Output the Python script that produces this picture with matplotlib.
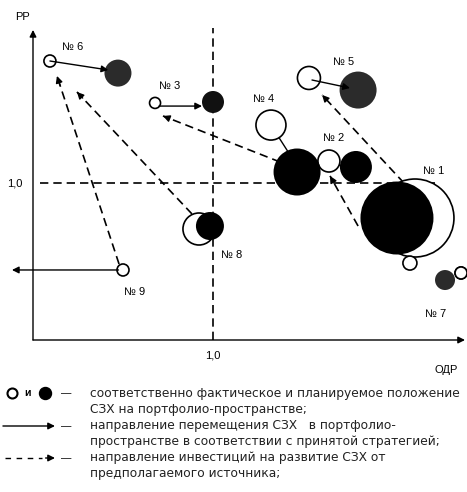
import matplotlib
matplotlib.use("Agg")
import matplotlib.pyplot as plt

plt.rcParams['font.family'] = ['Liberation Sans', 'DejaVu Sans']

# units: x = ОДР, y = РР (1,0 marks the dashed split lines)
names = ["№ 1", "№ 2", "№ 3", "№ 4", "№ 5", "№ 6", "№ 7", "№ 8", "№ 9"]
actual_x = [2.122, 1.644, 0.678, 1.322, 1.533, 0.094, 2.378, 0.922, 0.500]
actual_y = [0.777, 1.140, 1.510, 1.369, 1.669, 1.777, 0.427, 0.707, 0.446]
actual_d = [78, 22, 11, 30, 23, 12, 12, 32, 12]
plan_x = [2.022, 1.794, 1.000, 1.467, 1.806, 0.472, 2.289, 0.983]
plan_y = [0.777, 1.102, 1.516, 1.070, 1.592, 1.700, 0.382, 0.726]
plan_d = [73, 32, 22, 47, 37, 27, 20, 28]
plan_col = ["black", "black", "#111111", "black", "#2b2b2b", "#2b2b2b", "#2b2b2b", "black"]
extra_x, extra_y, extra_d = [2.094], [0.490], [14]   # small circle under № 1

label_x = [2.228, 1.672, 0.761, 1.283, 1.728, 0.222, 2.239, 1.106, 0.567]
label_y = [1.075, 1.287, 1.618, 1.535, 1.771, 1.866, 0.166, 0.541, 0.306]

# solid moves (actual -> planned)
move_from = [(0.094, 1.777), (0.700, 1.490), (1.550, 1.656), (1.322, 1.369), (1.644, 1.140), (0.475, 0.446), (2.022, 0.808)]
move_to = [(0.418, 1.720), (0.939, 1.490), (1.761, 1.605), (1.428, 1.179), (1.717, 1.108), (-0.117, 0.446), (2.278, 0.808)]
move_head = [True, True, True, False, False, True, False]

# dashed investment flows
inv_from = [(0.883, 0.803), (0.478, 0.484), (1.372, 1.134), (2.061, 1.000), (1.806, 0.726)]
inv_to = [(0.244, 1.580), (0.133, 1.682), (0.722, 1.427), (1.606, 1.561), (1.650, 1.045)]

legend_rows = ["соответственно фактическое и планируемое положение",
               "СЗХ на портфолио-пространстве;",
               "направление перемещения СЗХ   в портфолио-",
               "пространстве в соответствии с принятой стратегией;",
               "направление инвестиций на развитие СЗХ от",
               "предполагаемого источника;"]

W, H = 467, 492
fig = plt.figure(figsize=(W / 100, H / 100), dpi=100)
ax = fig.add_axes([0, 0, 1, 1])
ax.set_xlim(-33 / 180, (W - 33) / 180)
ax.set_ylim((340 - H) / 157, 340 / 157)
ax.axis('off')


def pts(d):
    return (d * 0.72) ** 2


def head(p0, p1, ls='-'):
    ax.annotate('', xy=p1, xytext=p0, zorder=6,
                arrowprops=dict(arrowstyle='-|>', color='black', lw=1.0, ls=ls,
                                mutation_scale=10, shrinkA=0, shrinkB=0))


# axes with arrows
head((0, 0), (0, 1.975))
head((0, 0), (2.40, 0))
ax.plot([0.04, 2.26], [1, 1], ls=(0, (5, 3)), color='black', lw=1.2)
ax.plot([1, 1], [0, 1.99], ls=(0, (5, 3)), color='black', lw=1.2)
ax.text(-0.061, 2.057, "РР", fontsize=8, ha='center', va='center')
ax.text(-0.10, 1.0, "1,0", fontsize=8, ha='center', va='center')
ax.text(1.0, -0.096, "1,0", fontsize=8, ha='center', va='center')
ax.text(2.294, -0.191, "ОДР", fontsize=8, ha='center', va='center')

# investment flows
for p0, p1 in zip(inv_from, inv_to):
    ax.plot([p0[0], p1[0]], [p0[1], p1[1]], ls=(0, (5, 3)), color='black', lw=1.2, zorder=2)
    dx, dy = p1[0] - p0[0], p1[1] - p0[1]
    head((p1[0] - dx * 0.05, p1[1] - dy * 0.05), p1)

# moves
for p0, p1, h in zip(move_from, move_to, move_head):
    if h:
        head(p0, p1)
    else:
        ax.plot([p0[0], p1[0]], [p0[1], p1[1]], color='black', lw=1.0, zorder=3)

# circles
ax.scatter(actual_x, actual_y, s=[pts(d) for d in actual_d], facecolor='white',
           edgecolor='black', linewidth=1.2, zorder=3)
ax.scatter(plan_x, plan_y, s=[pts(d) for d in plan_d], c=plan_col,
           edgecolor='none', zorder=4)
ax.scatter([actual_x[6]] + extra_x, [actual_y[6]] + extra_y,
           s=[pts(actual_d[6])] + [pts(d) for d in extra_d],
           facecolor='white', edgecolor='black', linewidth=1.2, zorder=5)

for n, x, y in zip(names, label_x, label_y):
    ax.text(x, y, n, fontsize=8, ha='center', va='center')

# legend
row_y = [(340 - py) / 157 for py in [393, 410, 426, 442, 458, 474]]
for t, y in zip(legend_rows, row_y):
    ax.text(0.317, y, t, fontsize=8.85, ha='left', va='center', family='DejaVu Sans',
            color='#222222')
ax.scatter([-0.117], [row_y[0]], s=pts(10), facecolor='white', edgecolor='black', linewidth=1.5)
ax.text(-0.033, row_y[0], "и", fontsize=7.5, ha='center', va='center', weight='bold')
ax.scatter([0.067], [row_y[0]], s=pts(12), color='black')
for y in [row_y[0], row_y[2], row_y[4]]:
    ax.text(0.183, y, "—", fontsize=7.5, ha='center', va='center')
head((-0.167, row_y[2]), (0.122, row_y[2]))
ax.plot([-0.156, 0.05], [row_y[4], row_y[4]], ls=(0, (4, 4)), color='black', lw=1.0)
head((0.07, row_y[4]), (0.122, row_y[4]))

fig.savefig("out.png", dpi=100)
